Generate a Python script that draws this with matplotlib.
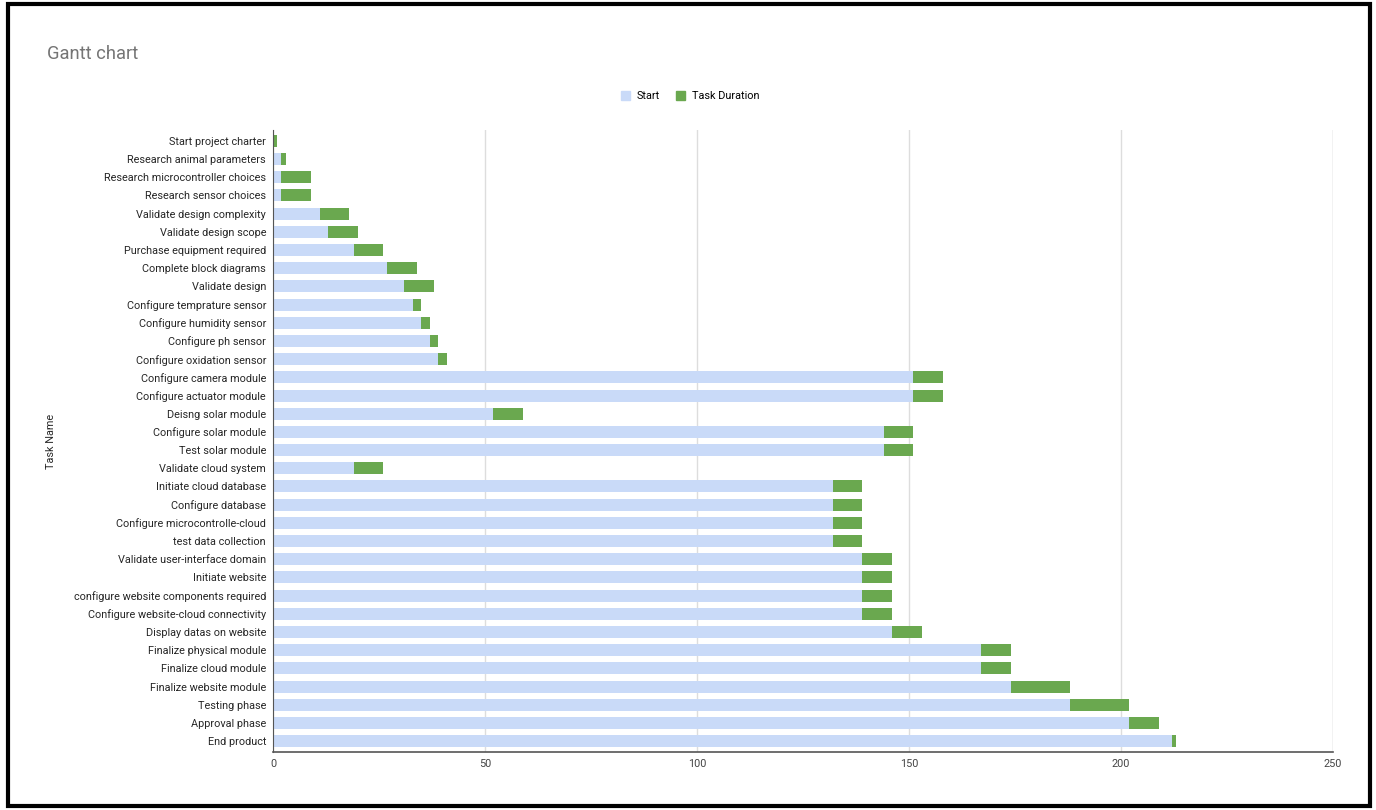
import matplotlib
matplotlib.use('Agg')
import matplotlib.pyplot as plt
import matplotlib.patches as mpatches

tasks = [
    "Start project charter", "Research animal parameters", "Research microcontroller choices",
    "Research sensor choices", "Validate design complexity", "Validate design scope",
    "Purchase equipment required", "Complete block diagrams", "Validate design",
    "Configure temprature sensor", "Configure humidity sensor", "Configure ph sensor",
    "Configure oxidation sensor", "Configure camera module", "Configure actuator module",
    "Deisng solar module", "Configure solar module", "Test solar module",
    "Validate cloud system", "Initiate cloud database", "Configure database",
    "Configure microcontrolle-cloud", "test data collection", "Validate user-interface domain",
    "Initiate website", "configure website components required", "Configure website-cloud connectivity",
    "Display datas on website", "Finalize physical module", "Finalize cloud module",
    "Finalize website module", "Testing phase", "Approval phase", "End product",
]
start = [0, 2, 2, 2, 11, 13, 19, 27, 31, 33, 35, 37, 39, 151, 151, 52, 144, 144,
         19, 132, 132, 132, 132, 139, 139, 139, 139, 146, 167, 167, 174, 188, 202, 212]
duration = [1, 1, 7, 7, 7, 7, 7, 7, 7, 2, 2, 2, 2, 7, 7, 7, 7, 7,
            7, 7, 7, 7, 7, 7, 7, 7, 7, 7, 7, 7, 14, 14, 7, 1]
x_ticks = [0, 50, 100, 150, 200, 250]

BLUE = '#c9daf8'
GREEN = '#6aa84f'
plt.rcParams['font.family'] = ['Roboto', 'DejaVu Sans']

fig = plt.figure(figsize=(13.76, 8.1), dpi=100)
fig.patch.set_facecolor('white')
ax = fig.add_axes([273 / 1376, 1 - 752 / 810, (1333 - 273) / 1376, (752 - 130) / 810])

pos = list(range(len(tasks)))
ax.barh(pos, start, height=0.66, color=BLUE, zorder=2)
ax.barh(pos, duration, left=start, height=0.66, color=GREEN, zorder=2)

ax.set_ylim(len(tasks) - 0.4, -0.6)
ax.set_xlim(0, 250)
ax.set_yticks(pos)
ax.set_yticklabels(tasks, fontsize=7.85, color='#262626')
ax.set_xticks(x_ticks)
ax.set_xticklabels([str(t) for t in x_ticks], fontsize=7.85, color='#444444')
ax.tick_params(length=0, pad=5)

ax.xaxis.grid(True, color='#dddddd', linewidth=1)
ax.set_axisbelow(True)
for s in ['top', 'right']:
    ax.spines[s].set_visible(False)
ax.spines['left'].set_color('#555555')
ax.spines['bottom'].set_color('#555555')
ax.spines['bottom'].set_linewidth(1.2)
ax.axvline(250, color='#dddddd', linewidth=1, zorder=0)

ax.set_ylabel('Task Name', fontsize=7.85, color='#262626', labelpad=0)
ax.yaxis.set_label_coords(-0.205, 0.5)

fig.text(47 / 1376, 1 - 54 / 810, 'Gantt chart', fontsize=13.2, color='#757575', va='center')

handles = [mpatches.Patch(color=BLUE, label='Start'),
           mpatches.Patch(color=GREEN, label='Task Duration')]
fig.legend(handles=handles, loc='center', bbox_to_anchor=(690 / 1376, 1 - 96 / 810),
           ncol=2, frameon=False, fontsize=7.85, handlelength=0.9, handleheight=0.9,
           columnspacing=1.4, handletextpad=0.6)

# screenshot frame
fig.patches.append(mpatches.Rectangle((8 / 1376, 4 / 810), 1362 / 1376, 802 / 810,
                                      transform=fig.transFigure, fill=False,
                                      edgecolor='black', linewidth=3))

fig.savefig('out.png', dpi=100, facecolor='white')
